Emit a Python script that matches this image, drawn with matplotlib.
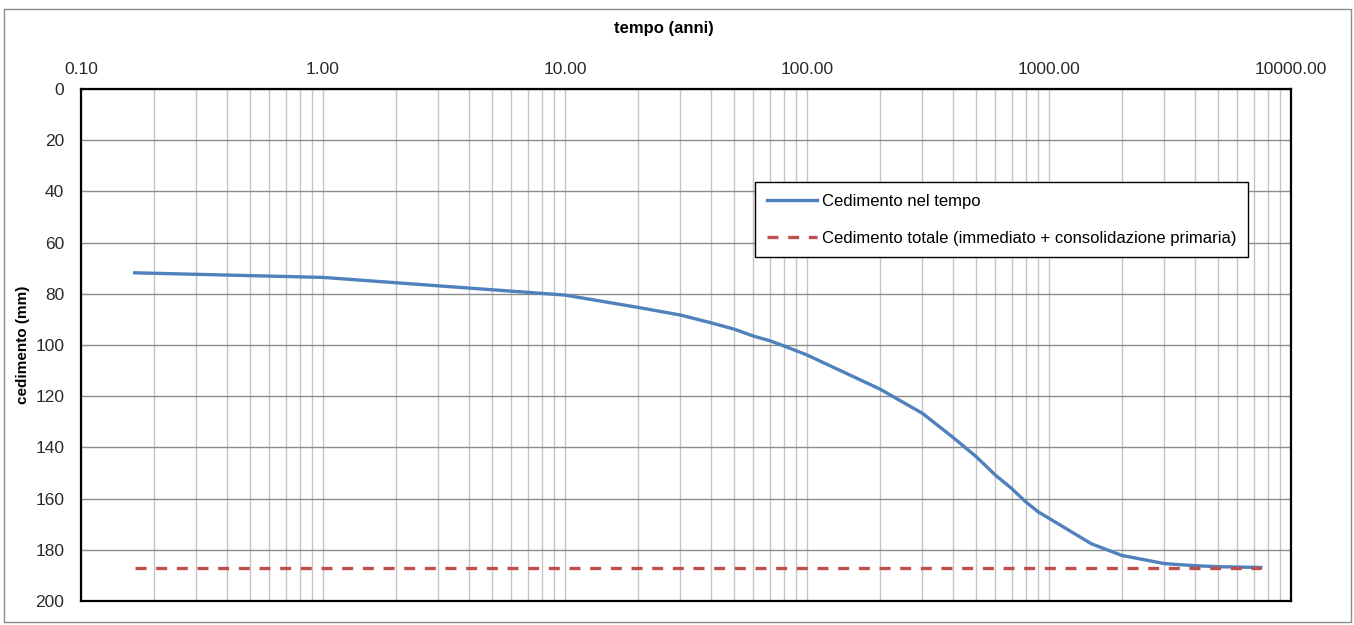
import matplotlib.pyplot as plt
from matplotlib.patches import Rectangle
from matplotlib.ticker import FixedLocator, LogLocator, NullFormatter

plt.rcParams['font.family'] = ['Liberation Sans', 'DejaVu Sans']

# settlement vs time
tempo = [0.1667, 1, 10, 20, 30, 40, 50, 60, 70, 80, 90, 100,
         200, 300, 400, 500, 600, 700, 800, 900, 1000,
         1500, 2000, 3000, 4000, 5000, 7500]
cedimento = [71.8, 73.6, 80.5, 85.3, 88.3, 91.3, 93.8, 96.5, 98.3, 100.3, 102.2, 103.9,
             117.2, 126.7, 136.0, 143.6, 150.8, 156.0, 161.2, 165.1, 167.7,
             177.7, 182.2, 185.4, 186.2, 186.6, 186.9]
totale_t = [0.1667, 7500]
totale = [187.2, 187.2]

x_ticks = [0.1, 1, 10, 100, 1000, 10000]
x_labels = ['0.10', '1.00', '10.00', '100.00', '1000.00', '10000.00']

fig = plt.figure(figsize=(13.54, 6.25), dpi=100)
ax = fig.add_axes([81 / 1354, 1 - 601 / 625, 1210 / 1354, 512 / 625])

# grey border around the chart
fig.patches.append(Rectangle((4 / 1354, 0.005), 1347 / 1354, 1 - 9 / 625 - 0.005,
                             transform=fig.transFigure, fill=False,
                             edgecolor='#8a8a8a', linewidth=1))

ax.plot(tempo, cedimento, color='#4F81BD', linewidth=2.4, label='Cedimento nel tempo', zorder=3)
ax.plot(totale_t, totale, color='#C0504D', linewidth=2.4, linestyle=(0, (3.3, 2.9)),
        label='Cedimento totale (immediato + consolidazione primaria)', zorder=3)

ax.set_xscale('log')
ax.set_xlim(0.1, 10000)
ax.set_ylim(200, 0)
ax.xaxis.set_major_locator(FixedLocator(x_ticks))
ax.set_xticklabels(x_labels)
ax.xaxis.set_minor_locator(LogLocator(base=10, subs=range(2, 10), numticks=20))
ax.xaxis.set_minor_formatter(NullFormatter())
ax.set_yticks(range(0, 201, 20))

ax.xaxis.tick_top()
ax.tick_params(axis='both', which='both', length=0, labelsize=12.5, colors='#2a2a2a')
ax.tick_params(axis='x', pad=9)
ax.tick_params(axis='y', pad=12)

ax.grid(True, axis='x', which='both', color='#c4c4c4', linewidth=1)
ax.grid(True, axis='y', which='major', color='#8c8c8c', linewidth=1)
ax.set_axisbelow(True)

for sp in ax.spines.values():
    sp.set_color('black')
    sp.set_linewidth(1.6)

ax.set_ylabel('cedimento (mm)', fontsize=11, fontweight='bold', labelpad=4)
fig.text(664 / 1354, 1 - 29 / 625, 'tempo (anni)', fontsize=12, fontweight='bold',
         ha='center', va='center')

leg = ax.legend(loc='upper left', bbox_to_anchor=(0.557, 0.818), fontsize=12,
                frameon=True, fancybox=False, framealpha=1, edgecolor='black',
                labelspacing=1.3, handlelength=3.0, handletextpad=0.3,
                borderpad=0.7, borderaxespad=0)
leg.get_frame().set_linewidth(1)

plt.savefig('out.png', dpi=100)
